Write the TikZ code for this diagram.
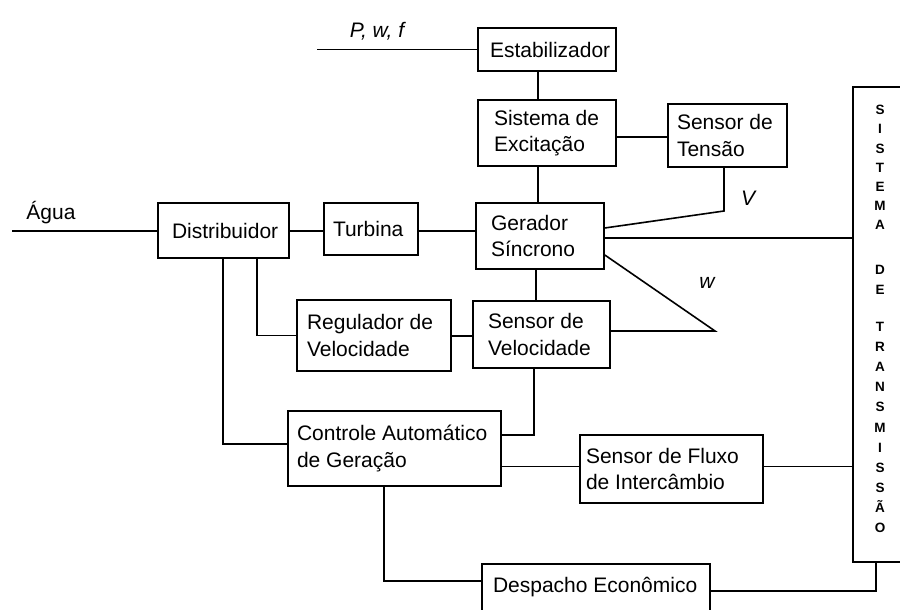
\documentclass[tikz,border=0pt]{standalone}
\usepackage{fontspec}
\setmainfont{Liberation Sans}
\hyphenpenalty=10000
\exhyphenpenalty=10000
\begin{document}
\begin{tikzpicture}[x=1pt,y=-1pt,
  blk/.style={draw, line width=1.6pt, inner ysep=0pt, align=flush left, font=\fontsize{21}{26.5}\selectfont},
  ln/.style={line width=1.6pt},
  lbl/.style={font=\itshape\fontsize{21}{25}\selectfont, inner sep=0pt},
  plain/.style={font=\fontsize{21}{25}\selectfont, inner sep=0pt},
  tl/.style={align=center, inner sep=0pt}]
\useasboundingbox (0,0) rectangle (900,610);

% boxes
\node[blk, minimum width=138pt, minimum height=43pt, text width=114pt, inner xsep=12pt] (estab) at (547,49.5) {Estabilizador};
\node[blk, minimum width=138pt, minimum height=66pt, text width=106pt, inner xsep=16pt] (excit) at (547,133) {Sistema~de\\Excitação};
\node[blk, minimum width=119pt, minimum height=63pt, text width=101pt, inner xsep=9pt] (tensao) at (727.5,135.5) {Sensor~de\\Tensão};
\node[blk, minimum width=128pt, minimum height=66pt, text width=98pt, inner xsep=15pt] (gerador) at (540,236) {Gerador\\Síncrono};
\node[blk, minimum width=94pt, minimum height=52pt, text width=76pt, inner xsep=9pt] (turbina) at (371,229) {Turbina};
\node[blk, minimum width=131pt, minimum height=55pt, text width=103pt, inner xsep=14pt] (distrib) at (223.5,230.5) {Distribuidor};
\node[blk, minimum width=154pt, minimum height=71pt, text width=134pt, inner xsep=10pt] (regul) at (374,335.5) {Regulador~de\\Velocidade};
\node[blk, minimum width=137pt, minimum height=67pt, text width=107pt, inner xsep=15pt] (sensvel) at (541.5,334.5) {Sensor~de\\Velocidade};
\node[blk, minimum width=213pt, minimum height=75pt, text width=195pt, inner xsep=9pt] (controle) at (394.5,448.5) {Controle~Automático\\de~Geração};
\node[blk, minimum width=183pt, minimum height=68pt, text width=171pt, inner xsep=6pt] (fluxo) at (671.5,469) {Sensor~de~Fluxo\\de~Intercâmbio};
\node[blk, minimum width=228pt, minimum height=47pt, text width=206pt, inner xsep=11pt] (despacho) at (596,587.5) {Despacho~Econômico};
\node[draw, line width=1.6pt, minimum width=53pt, minimum height=475pt, inner sep=0pt] (trans) at (879.5,324.5) {};

% transmission letters
\node[tl, font=\bfseries\fontsize{13.5}{19.2}\selectfont] (ts1) at (880,167.5) {S\\I\\S\\T\\E\\M\\A};
\node[tl, font=\bfseries\fontsize{13.5}{20}\selectfont] (ts2) at (880,280) {D\\E};
\node[tl, font=\bfseries\fontsize{13.5}{20.1}\selectfont] (ts3) at (880,427.5) {T\\R\\A\\N\\S\\M\\I\\S\\S\\Ã\\O};

% labels
\node[lbl] (pwf) at (377,31) {P, w, f};
\node[plain] (agua) at (51,213) {Água};
\node[lbl] (vlbl) at (748,198) {V};
\node[lbl] (wlbl) at (707,283) {w};

% helper coordinates
\coordinate (pwf0) at (317,49.5);
\coordinate (agua0) at (12,231);
\coordinate (xa) at (538,0);
\coordinate (yt) at (0,137);
\coordinate (vb) at (724,211);
\coordinate (yv) at (0,228);
\coordinate (yw) at (0,255);
\coordinate (wb) at (715,331);
\coordinate (xs) at (536,0);
\coordinate (yr) at (0,336);
\coordinate (xd1) at (223,0);
\coordinate (xd2) at (257,0);
\coordinate (yc1) at (0,444);
\coordinate (xsv) at (534,0);
\coordinate (yc2) at (0,435);
\coordinate (yf) at (0,466.5);
\coordinate (xc) at (384,0);
\coordinate (yd1) at (0,581);
\coordinate (yd2) at (0,591);
\coordinate (xt) at (876,0);
\coordinate (yg) at (0,238);

% connectors
\draw[ln] (pwf0) -- (estab.west);
\draw[ln] (estab.south -| xa) -- (excit.north -| xa);
\draw[ln] (excit.east |- yt) -- (tensao.west |- yt);
\draw[ln] (excit.south -| xa) -- (gerador.north -| xa);
\draw[ln] (agua0) -- (distrib.west |- agua0);
\draw[ln] (distrib.east |- agua0) -- (turbina.west |- agua0);
\draw[ln] (turbina.east |- agua0) -- (gerador.west |- agua0);
\draw[ln] (gerador.east |- yg) -- (trans.west |- yg);
\draw[ln] (gerador.east |- yv) -- (vb) -- (tensao.south -| vb);
\draw[ln] (gerador.east |- yw) -- (wb) -- (sensvel.east |- wb);
\draw[ln] (gerador.south -| xs) -- (sensvel.north -| xs);
\draw[ln] (regul.east |- yr) -- (sensvel.west |- yr);
\draw[ln] (distrib.south -| xd2) |- (regul.west);
\draw[ln] (distrib.south -| xd1) |- (controle.west |- yc1);
\draw[ln] (sensvel.south -| xsv) |- (controle.east |- yc2);
\draw[ln] (controle.east |- yf) -- (fluxo.west |- yf);
\draw[ln] (fluxo.east |- yf) -- (trans.west |- yf);
\draw[ln] (controle.south -| xc) |- (despacho.west |- yd1);
\draw[ln] (despacho.east |- yd2) -| (trans.south -| xt);
\end{tikzpicture}
\end{document}
